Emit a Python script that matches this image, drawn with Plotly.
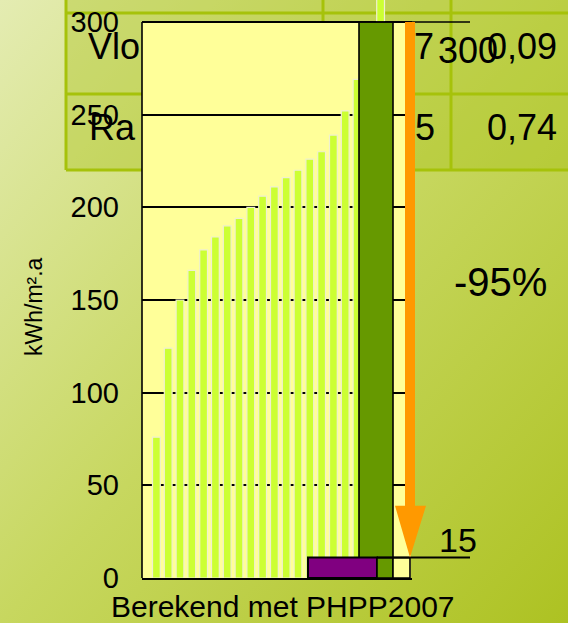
import base64
import plotly.graph_objects as go

# ---------------- data ----------------
bar_index = list(range(20))
bar_values = [76, 124, 150, 166, 177, 184, 190, 194, 200, 206, 211, 216, 220, 226, 230, 239, 252, 269, 285, 315]
ref_value = [300]          # dark green reference bar
target_value = 11          # "15" level block
y_ticks = [0, 50, 100, 150, 200, 250, 300]
y_title = "kWh/m².a"
x_title = "Berekend met PHPP2007"
reduction_label = "-95%"
target_label = "15"
table_rows = [["Vlo", "7", "0,09"], ["Ra", "5", "0,74"]]
stray_label = "300"

# ---------------- geometry helpers ----------------
W, H = 568, 623
PITCH, X0 = 11.8, 156.4           # px per bar slot, px of first slot center
PL, PR, PB = 142, 412, 578        # plot left/right/bottom px
PX_PER_UNIT = 556 / 300
YMAX = PB / PX_PER_UNIT


def XP(p):
    return p / W


def YP(p):
    return 1 - p / H


def xd(p):
    return (p - X0) / PITCH


FONT = "Liberation Sans, Arial, sans-serif"

fig = go.Figure()

# light bars
fig.add_trace(go.Bar(x=bar_index, y=bar_values, width=0.66,
                     marker=dict(color="#ccff33", line=dict(color="#f0f0d0", width=1.2)),
                     hoverinfo="skip"))
# big dark green bar
fig.add_trace(go.Bar(x=[xd(376)], y=ref_value, width=[34 / PITCH],
                     marker=dict(color="#669900", line=dict(color="#000000", width=1.6)),
                     hoverinfo="skip"))
# bottom blocks
fig.add_trace(go.Bar(x=[xd(342.5)], y=[target_value], width=[69 / PITCH],
                     marker=dict(color="#800080", line=dict(color="#000000", width=2)),
                     hoverinfo="skip"))
fig.add_trace(go.Bar(x=[xd(385)], y=[target_value], width=[16 / PITCH],
                     marker=dict(color="#669900", line=dict(color="#000000", width=1.6)),
                     hoverinfo="skip"))
fig.add_trace(go.Bar(x=[xd(401.5)], y=[target_value], width=[17 / PITCH],
                     marker=dict(color="#ffff99", line=dict(color="#000000", width=1.6)),
                     hoverinfo="skip"))

# background gradient
svg = ("<svg xmlns='http://www.w3.org/2000/svg' width='568' height='623'>"
       "<defs><linearGradient id='g' x1='0' y1='0' x2='1' y2='1'>"
       "<stop offset='0' stop-color='#e4ecb2'/>"
       "<stop offset='0.5' stop-color='#c7d75f'/>"
       "<stop offset='1' stop-color='#adc222'/>"
       "</linearGradient></defs><rect width='568' height='623' fill='url(#g)'/></svg>")
uri = "data:image/svg+xml;base64," + base64.b64encode(svg.encode()).decode()

shapes = []
# table behind chart
shapes.append(dict(type="rect", xref="paper", yref="paper", x0=XP(66), x1=XP(575), y0=YP(170), y1=YP(-5),
                   fillcolor="rgba(165,192,20,0.36)", line=dict(width=0), layer="below"))
for yy in [13, 94, 170]:
    shapes.append(dict(type="line", xref="paper", yref="paper", x0=XP(66), x1=XP(575), y0=YP(yy), y1=YP(yy),
                       line=dict(color="#a6c20a", width=3), layer="below"))
for xx in [66, 323, 451]:
    shapes.append(dict(type="line", xref="paper", yref="paper", x0=XP(xx), x1=XP(xx), y0=YP(170), y1=YP(-5),
                       line=dict(color="#a6c20a", width=3), layer="below"))
# yellow plot background (0..300)
shapes.append(dict(type="rect", xref="x", yref="y", x0=xd(PL), x1=xd(411), y0=0, y1=300,
                   fillcolor="#ffff99", line=dict(width=0), layer="below"))
# left border
shapes.append(dict(type="line", xref="paper", yref="y", x0=XP(PL), x1=XP(PL), y0=0, y1=300,
                   line=dict(color="#000000", width=1.6), layer="above"))
# top line extended
shapes.append(dict(type="line", xref="paper", yref="y", x0=XP(PL), x1=XP(470), y0=300, y1=300,
                   line=dict(color="#000000", width=1.6), layer="above"))
# target line
shapes.append(dict(type="line", xref="paper", yref="y", x0=XP(377), x1=XP(470), y0=target_value, y1=target_value,
                   line=dict(color="#000000", width=2), layer="above"))
# orange arrow
head_top = 39
path = (f"M {XP(405)},300 L {XP(415)},300 L {XP(415)},{head_top} L {XP(426)},{head_top} "
        f"L {XP(410)},{target_value} L {XP(395)},{head_top} L {XP(405)},{head_top} Z")
shapes.append(dict(type="path", xref="paper", yref="y", path=path, fillcolor="#ff9900",
                   line=dict(width=0), layer="above"))

annotations = []


def ann(text, x, y, size, xanchor="center", yanchor="middle", angle=0):
    annotations.append(dict(text=text, x=XP(x), y=YP(y), xref="paper", yref="paper", showarrow=False,
                            xanchor=xanchor, yanchor=yanchor, textangle=angle,
                            font=dict(family=FONT, size=size, color="#000000")))


# table text
ann(table_rows[0][0], 142, 47, 36, xanchor="right")
ann(table_rows[1][0], 87, 127, 36, xanchor="left")
ann(table_rows[0][1], 412, 47, 36, xanchor="left")
ann(table_rows[1][1], 413, 127, 36, xanchor="left")
ann(table_rows[0][2], 559, 47, 36, xanchor="right")
ann(table_rows[1][2], 559, 127, 36, xanchor="right")
ann(stray_label, 436, 51, 36, xanchor="left")
# chart text
ann(reduction_label, 500, 282, 40)
ann(target_label, 458, 540, 34)
ann(x_title, 283, 606, 30)
ann(y_title, 34, 307, 23, angle=-90)

fig.update_layout(
    width=W, height=H,
    autosize=False,
    margin=dict(l=0, r=0, t=0, b=0, pad=0, autoexpand=False),
    paper_bgcolor="#c7d75f",
    plot_bgcolor="rgba(0,0,0,0)",
    barmode="overlay",
    showlegend=False,
    shapes=shapes,
    annotations=annotations,
    images=[dict(source=uri, xref="paper", yref="paper", x=0, y=1, sizex=1, sizey=1,
                 xanchor="left", yanchor="top", sizing="stretch", layer="below")],
    xaxis=dict(domain=[XP(PL), XP(PR)], range=[xd(PL), xd(PR)], showgrid=False, zeroline=False,
               showticklabels=False, ticks="", showline=True, linecolor="#000000", linewidth=1.6,
               fixedrange=True, automargin=False),
    yaxis=dict(domain=[1 - PB / H, 1], range=[0, YMAX], tickvals=y_ticks,
               ticktext=[str(v) for v in y_ticks], showgrid=True, gridcolor="#000000", gridwidth=1.6,
               zeroline=False, showline=False, ticks="", ticklabelstandoff=22,
               tickfont=dict(family=FONT, size=29, color="#000000"), fixedrange=True, automargin=False),
)

fig.write_html("out.html", config={"displayModeBar": False, "responsive": False},
               post_script="document.body.style.margin='0px';document.body.style.overflow='hidden';")
